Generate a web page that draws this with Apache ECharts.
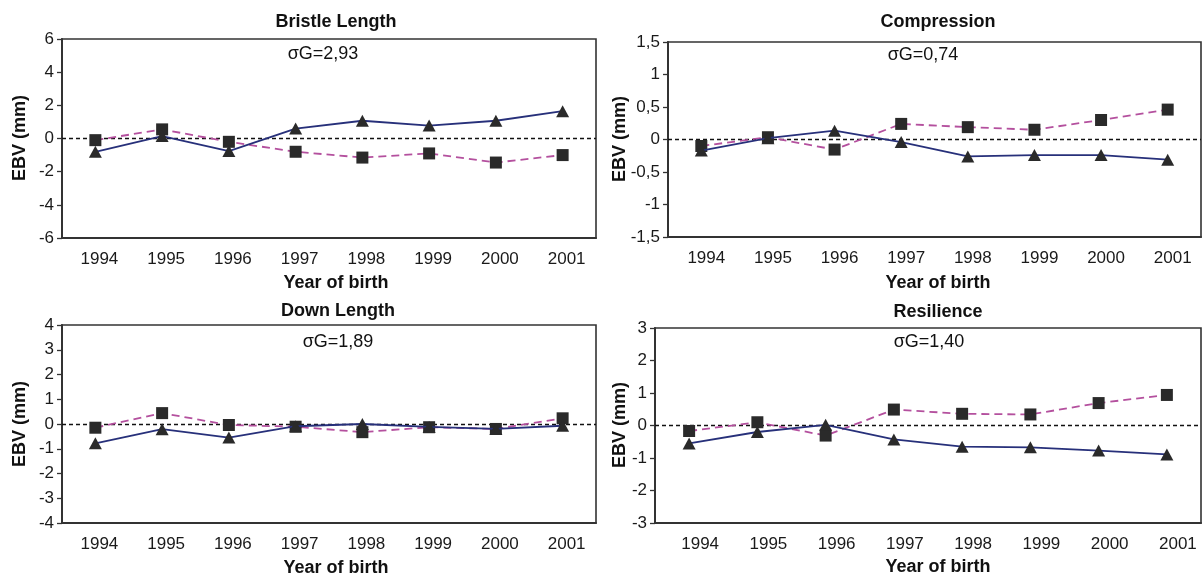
<!DOCTYPE html>
<html><head><meta charset="utf-8">
<script src="https://cdn.jsdelivr.net/npm/echarts@6/dist/echarts.min.js"></script>
<style>html,body{margin:0;padding:0;background:#fff}#c{width:1203px;height:576px}</style>
</head><body><div id="c"></div>
<script>
const years = ['1994','1995','1996','1997','1998','1999','2000','2001'];
const panelTitles = ['Bristle Length','Compression','Down Length','Resilience'];
const sigmaLabels = ['σG=2,93','σG=0,74','σG=1,89','σG=1,40'];
const xAxisTitle = 'Year of birth';
const yAxisTitle = 'EBV (mm)';
// solid (triangles) and dashed (squares) series
const bristleTri = [-0.80, 0.15, -0.76, 0.60, 1.07, 0.78, 1.07, 1.65];
const bristleSq  = [-0.10, 0.55, -0.20, -0.80, -1.15, -0.90, -1.45, -1.00];
const compTri    = [-0.17, 0.02, 0.135, -0.04, -0.26, -0.24, -0.24, -0.31];
const compSq     = [-0.10, 0.035, -0.155, 0.24, 0.19, 0.15, 0.30, 0.46];
const downTri    = [-0.78, -0.21, -0.55, -0.09, 0.00, -0.12, -0.20, -0.07];
const downSq     = [-0.15, 0.44, -0.04, -0.11, -0.33, -0.13, -0.20, 0.23];
const resTri     = [-0.55, -0.20, 0.02, -0.43, -0.65, -0.67, -0.77, -0.89];
const resSq      = [-0.17, 0.10, -0.31, 0.49, 0.36, 0.34, 0.69, 0.94];
// y axis ranges [min, max, interval]
const yRanges = [[-6, 6, 2], [-1.5, 1.5, 0.5], [-4, 4, 1], [-3, 3, 1]];

const triData = [bristleTri, compTri, downTri, resTri];
const sqData = [bristleSq, compSq, downSq, resSq];

const grids = [
  {left: 62, top: 39, width: 534, height: 199},
  {left: 668, top: 42, width: 533, height: 195},
  {left: 62, top: 325, width: 534, height: 198},
  {left: 655, top: 328, width: 546, height: 195}
];
const labelShift = [8, 10, 8, 22];
const FONT = '"Liberation Sans", Arial, sans-serif';
const axisCol = '#333333';
const navy = '#27307a';
const pink = '#b4509e';
const markCol = '#2a2a2a';

const option = {
  animation: false,
  backgroundColor: '#fff',
  grid: grids.map(g => Object.assign({show: true, borderColor: axisCol, borderWidth: 1.6, backgroundColor: 'transparent'}, g)),
  xAxis: grids.map((g, i) => ({
    type: 'category', gridIndex: i, data: years, boundaryGap: true,
    axisLine: {show: true, onZero: false, lineStyle: {color: axisCol, width: 2}},
    axisTick: {show: false},
    splitLine: {show: false},
    axisLabel: {fontFamily: FONT, fontSize: 17, color: '#1a1a1a', margin: 13, padding: [0, 0, 0, labelShift[i]]}
  })),
  yAxis: yRanges.map((r, i) => ({
    type: 'value', gridIndex: i, min: r[0], max: r[1], interval: r[2],
    axisLine: {show: true, onZero: false, lineStyle: {color: axisCol, width: 2}},
    axisTick: {show: true, inside: false, length: 5, lineStyle: {color: axisCol, width: 1.3}},
    splitLine: {show: false},
    axisLabel: {fontFamily: FONT, fontSize: 17, color: '#1a1a1a', margin: 8,
      formatter: v => String(Math.round(v * 10) / 10).replace('.', ',')}
  })),
  series: [],
  graphic: []
};

for (let i = 0; i < 4; i++) {
  option.series.push({
    type: 'line', xAxisIndex: i, yAxisIndex: i, data: sqData[i],
    symbol: 'rect', symbolSize: 12, z: 3,
    lineStyle: {color: pink, width: 1.8, type: [8, 5]},
    itemStyle: {color: markCol, borderWidth: 0},
    markLine: {silent: true, symbol: 'none', label: {show: false},
      lineStyle: {color: '#111', width: 1.3, type: [4, 3]},
      data: [{yAxis: 0}], z: 1}
  });
  option.series.push({
    type: 'line', xAxisIndex: i, yAxisIndex: i, data: triData[i],
    symbol: 'triangle', symbolSize: [13, 12], z: 4,
    lineStyle: {color: navy, width: 1.8},
    itemStyle: {color: markCol, borderWidth: 0}
  });
}

const txt = (x, y, s, size, bold, rot) => ({
  type: 'text', x: x, y: y, rotation: rot || 0, silent: true,
  style: {text: s, fontFamily: FONT, fontSize: size, fontWeight: bold ? 'bold' : 'normal',
    fill: '#111', textAlign: 'center', textVerticalAlign: 'middle'}
});
const titlePos = [[336, 22], [938, 22], [338, 311], [938, 312]];
const sigmaPos = [[323, 54], [923, 55], [338, 342], [929, 342]];
const xNamePos = [[336, 283], [938, 283], [336, 568], [938, 567]];
const yNamePos = [[20, 138], [620, 139], [20, 424], [620, 425]];
for (let i = 0; i < 4; i++) {
  option.graphic.push(txt(titlePos[i][0], titlePos[i][1], panelTitles[i], 18, true));
  option.graphic.push(txt(sigmaPos[i][0], sigmaPos[i][1], sigmaLabels[i], 18, false));
  option.graphic.push(txt(xNamePos[i][0], xNamePos[i][1], xAxisTitle, 18, true));
  option.graphic.push(txt(yNamePos[i][0], yNamePos[i][1], yAxisTitle, 18, true, Math.PI / 2));
}

const chart = echarts.init(document.getElementById('c'), null, {renderer: 'canvas'});
chart.setOption(option);
</script>
</body></html>
